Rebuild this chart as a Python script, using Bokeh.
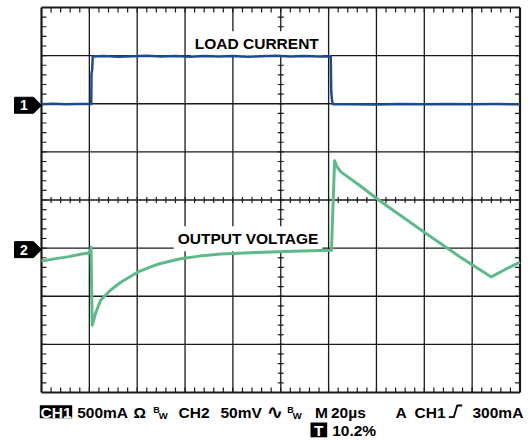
from bokeh.plotting import figure
from bokeh.models import Range1d
from bokeh.core.properties import value
from bokeh.embed import file_html
from bokeh.resources import INLINE

# ---------------- scope settings ----------------
TIME_PER_DIV = 20.0      # µs / div
X_DIVS = 10
Y_DIVS = 8
CH1_MA_PER_DIV = 500.0   # CH1 500 mA/div
CH1_POS_DIV = 2.0        # CH1 ground marker position (div)
CH2_MV_PER_DIV = 50.0    # CH2 50 mV/div
CH2_POS_DIV = -1.0       # CH2 reference marker position (div)

# ---------------- data ----------------
current_t_us = [0, 5, 10, 15, 20.8, 20.9, 21.2, 21.4, 26, 32, 38, 44, 50, 56,
                62, 68, 74, 80, 86, 92, 98, 104, 110, 116, 120.9, 121.1, 121.5,
                121.9, 130, 140, 150, 160, 170, 180, 190, 200]
current_ma = [-4, -1, -6, -3, -3, 310, 360, 490, 496, 489, 494, 498, 490, 495,
              488, 497, 492, 496, 489, 494, 498, 491, 495, 490, 493, 120, 20,
              -6, -4, -7, -3, -5, -2, -6, -3, -5]

voltage_t_us = [0, 5.9, 10.9, 16.3, 20.3, 20.7, 21.2, 22.6, 24.7, 28.8, 33.0,
                40.1, 45.6, 49.7, 58.1, 66.0, 75.0, 90.0, 105.0, 121.2, 122.5,
                123.3, 125.0, 133.3, 140.9, 159.7, 175.1, 188.0, 194.0, 200.0]
voltage_mv = [-13.5, -10.9, -9.1, -6.3, -4.9, 1.0, -80.2, -67.7, -54.2, -43.8,
              -35.7, -25.0, -19.5, -16.0, -11.0, -8.3, -6.2, -4.5, -3.3, -2.3,
              90.9, 85.4, 79.5, 64.6, 50.0, 17.0, -9.4, -29.9, -21.9, -14.6]

trace_labels = ["LOAD CURRENT", "OUTPUT VOLTAGE"]

# ---------------- geometry ----------------
W, H = 528, 442
PX_X = 47.85          # px per horizontal division
PX_Y = 48.125         # px per vertical division
GRAT_LEFT = 41        # graticule left edge (px)
GRAT_TOP = 7          # graticule top edge (px)
US_PER_PX = TIME_PER_DIV / PX_X

x_lo = -GRAT_LEFT * US_PER_PX
x_hi = x_lo + W * US_PER_PX
y_hi = Y_DIVS / 2 + GRAT_TOP / PX_Y
y_lo = y_hi - H / PX_Y
T_END = X_DIVS * TIME_PER_DIV
CENTER_PY = GRAT_TOP + PX_Y * Y_DIVS / 2


def X(px):   # pixel -> time (µs)
    return (px - GRAT_LEFT) * US_PER_PX


def Y(py):   # pixel -> divisions
    return (CENTER_PY - py) / PX_Y


p = figure(width=W, height=H, output_backend="svg", toolbar_location=None,
           x_range=Range1d(x_lo, x_hi), y_range=Range1d(y_lo, y_hi),
           x_axis_type=None, y_axis_type=None, min_border=0,
           outline_line_color=None, background_fill_color="white",
           border_fill_color="white")
p.grid.visible = False

GRID_COL = "#1a1a1a"
half = Y_DIVS / 2

# inner grid lines
vx = [k * TIME_PER_DIV for k in range(1, X_DIVS)]
p.segment(x0=vx, y0=[-half] * len(vx), x1=vx, y1=[half] * len(vx),
          line_color=GRID_COL, line_width=1.3)
hy = [j for j in range(-int(half) + 1, int(half))]
p.segment(x0=[0] * len(hy), y0=hy, x1=[T_END] * len(hy), y1=hy,
          line_color=GRID_COL, line_width=1.3)

# border
p.segment(x0=[0, T_END, 0, 0], y0=[-half, -half, half, -half],
          x1=[0, T_END, T_END, T_END], y1=[half, half, half, -half],
          line_color=GRID_COL, line_width=2.2)

# minor ticks (5 per division)
tlen_x = 5 * US_PER_PX
tlen_y = 5 / PX_Y
clen_x = 3 * US_PER_PX
clen_y = 3 / PX_Y
mx = [i * TIME_PER_DIV / 5 for i in range(1, X_DIVS * 5)]
my = [-half + i * 0.2 for i in range(1, Y_DIVS * 5)]
tx0, ty0, tx1, ty1 = [], [], [], []
for x in mx:
    tx0 += [x, x, x]
    tx1 += [x, x, x]
    ty0 += [half, -half, -clen_y]
    ty1 += [half - tlen_y, -half + tlen_y, clen_y]
for y in my:
    ty0 += [y, y, y]
    ty1 += [y, y, y]
    tx0 += [0, T_END, T_END / 2 - clen_x]
    tx1 += [tlen_x, T_END - tlen_x, T_END / 2 + clen_x]
p.segment(x0=tx0, y0=ty0, x1=tx1, y1=ty1, line_color=GRID_COL, line_width=1.2)

# trace labels with white boxes
FONT = value("Liberation Sans")
p.text(x=[X(256.3), X(247.5)], y=[Y(43.3), Y(238.3)], text=trace_labels,
       text_font=FONT, text_font_style="bold", text_font_size="15.5px",
       text_align="center", text_baseline="middle", text_color="black",
       background_fill_color="white", padding=4)

# traces
ch1_y = [CH1_POS_DIV + v / CH1_MA_PER_DIV for v in current_ma]
ch2_y = [CH2_POS_DIV + v / CH2_MV_PER_DIV for v in voltage_mv]
p.line(voltage_t_us, ch2_y, line_color="#5fba8b", line_width=3,
       line_join="round")
p.line(current_t_us, ch1_y, line_color="#1f4b8e", line_width=2.5,
       line_join="round")

# channel markers
mk_h = 8 / PX_Y
mk_xs, mk_ys = [], []
for pos in (CH1_POS_DIV, CH2_POS_DIV):
    c = pos - 1.5 / PX_Y
    mk_xs.append([X(14), X(33), 0, X(33), X(14)])
    mk_ys.append([c + mk_h, c + mk_h, c, c - mk_h, c - mk_h])
p.patches(mk_xs, mk_ys, fill_color="black", line_color="black")
p.text(x=[X(23.5), X(23.5)],
       y=[CH1_POS_DIV - 1.5 / PX_Y, CH2_POS_DIV - 1.5 / PX_Y],
       text=["1", "2"], text_font=FONT, text_font_style="bold",
       text_font_size="14px", text_color="white", text_align="center",
       text_baseline="middle")

# status line (y values are cap-height centres)
L1, L2 = 411.7, 430.0
p.quad(left=[X(39.3), X(310)], right=[X(71.7), X(326.7)],
       bottom=[Y(417.8), Y(436.8)], top=[Y(404.8), Y(422)],
       fill_color="black", line_color=None)
p.text(x=[X(55.5), X(318.3)], y=[Y(L1), Y(429.6)], text=["CH1", "T"],
       text_font=FONT, text_font_style="bold", text_font_size="15.5px",
       text_color="white", text_align="center", text_baseline="middle")

big_x = [76.7, 133, 178, 220, 314.5, 330.5, 395, 414, 472]
big_t = ["500mA", "Ω", "CH2", "50mV", "M", "20µs", "A", "CH1", "300mA"]
p.text(x=[X(v) for v in big_x], y=[Y(L1)] * len(big_x), text=big_t,
       text_font=FONT, text_font_style="bold", text_font_size="15.5px",
       text_color="black", text_align="left", text_baseline="middle")
p.text(x=[X(331.7)], y=[Y(L2)], text=["10.2%"],
       text_font=FONT, text_font_style="bold", text_font_size="15.5px",
       text_color="black", text_align="left", text_baseline="middle")
p.text(x=[X(152.7), X(286.7)], y=[Y(409.2)] * 2, text=["B", "B"],
       text_font=FONT, text_font_style="bold", text_font_size="9px",
       text_color="black", text_align="left", text_baseline="middle")
p.text(x=[X(158.3), X(292.3)], y=[Y(414.7)] * 2, text=["W", "W"],
       text_font=FONT, text_font_style="bold", text_font_size="9.5px",
       text_color="black", text_align="left", text_baseline="middle")
p.text(x=[X(266)], y=[Y(411.5)], text=["∿"],
       text_font=value("DejaVu Sans"), text_font_style="bold",
       text_font_size="20px", text_color="black", text_align="left",
       text_baseline="middle")
# trigger edge symbol
p.line([X(448.3), X(453.3), X(456.7), X(461.7)],
       [Y(416.7), Y(416.7), Y(405), Y(405)], line_color="black", line_width=1.8)

open("out.html", "w").write(file_html(p, INLINE))
